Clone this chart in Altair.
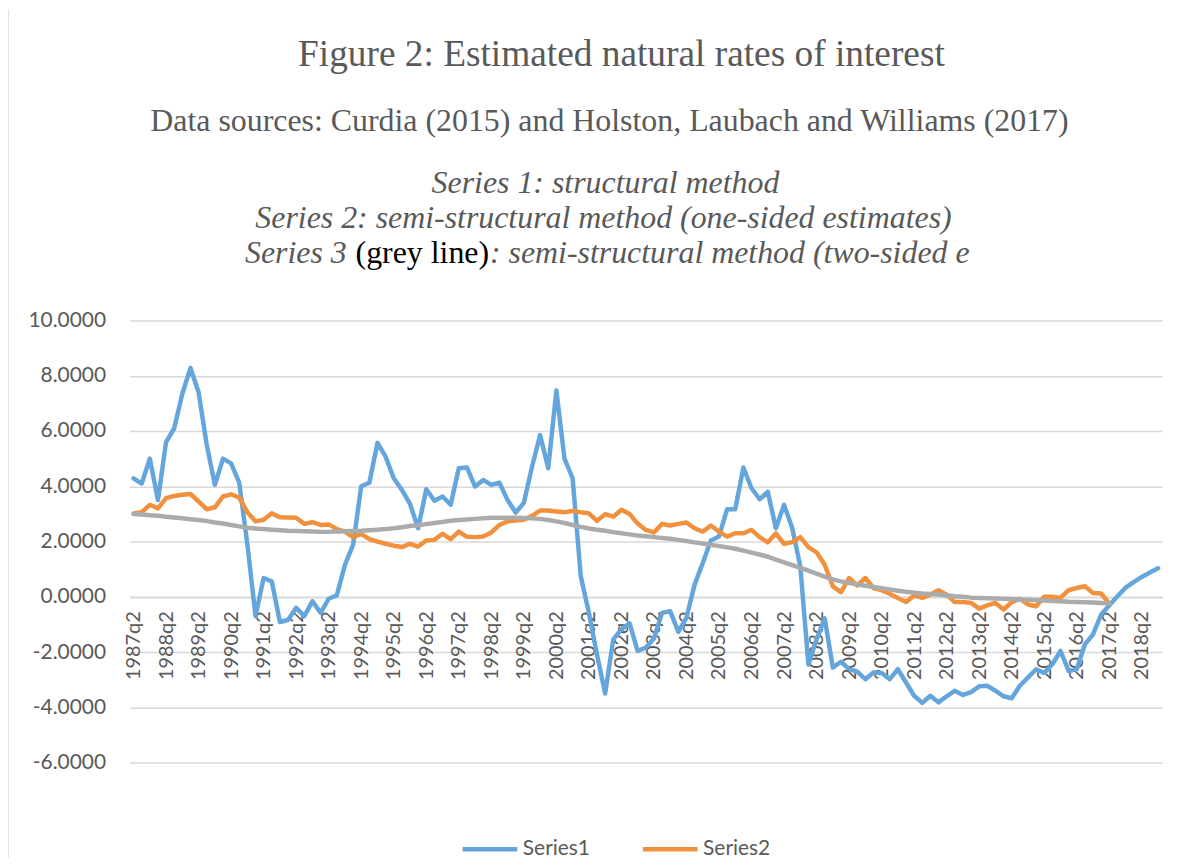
import altair as alt
import pandas as pd

# ---------------- data ----------------
quarters = [f"{y}q{q}" for y in range(1987, 2019) for q in range(1, 5)][1:]  # 1987q2 .. 2018q4
tick_labels = [f"{y}q2" for y in range(1987, 2019)]

series1 = [4.29, 4.10, 5.00, 3.50, 5.60, 6.10, 7.35, 8.28, 7.40, 5.50,
           4.05, 5.00, 4.83, 4.12, 1.90, -0.70, 0.68, 0.56, -0.91, -0.84,
           -0.40, -0.70, -0.16, -0.58, -0.07, 0.05, 1.16, 1.88, 4.00, 4.13,
           5.57, 5.07, 4.29, 3.87, 3.36, 2.48, 3.89, 3.48, 3.63, 3.33,
           4.65, 4.68, 3.99, 4.23, 4.05, 4.13, 3.50, 3.05, 3.40, 4.70,
           5.85, 4.65, 7.47, 5.00, 4.29, 0.74, -0.58, -2.10, -3.50, -1.54,
           -1.18, -0.96, -1.96, -1.84, -1.51, -0.58, -0.52, -1.27, -0.76, 0.44,
           1.22, 2.04, 2.18, 3.17, 3.17, 4.68, 3.93, 3.53, 3.80, 2.48,
           3.33, 2.50, 1.10, -2.45, -1.54, -0.78, -2.56, -2.35, -2.62, -2.71,
           -2.98, -2.74, -2.76, -2.98, -2.62, -3.10, -3.58, -3.84, -3.58, -3.82,
           -3.60, -3.40, -3.55, -3.45, -3.24, -3.22, -3.40, -3.60, -3.67, -3.22,
           -2.92, -2.62, -2.76, -2.44, -1.96, -2.68, -2.62, -1.72, -1.36, -0.64,
           -0.31, 0.02, 0.33, 0.53, 0.72, 0.88, 1.03]

series2 = [3.02, 3.06, 3.33, 3.20, 3.57, 3.65, 3.69, 3.72, 3.45, 3.17,
           3.24, 3.63, 3.71, 3.59, 3.06, 2.73, 2.79, 3.02, 2.88, 2.87,
           2.86, 2.64, 2.70, 2.60, 2.62, 2.45, 2.36, 2.16, 2.28, 2.09,
           2.00, 1.92, 1.85, 1.80, 1.92, 1.82, 2.04, 2.06, 2.28, 2.09,
           2.36, 2.17, 2.16, 2.18, 2.33, 2.60, 2.73, 2.76, 2.79, 2.93,
           3.12, 3.12, 3.09, 3.06, 3.11, 3.06, 3.02, 2.75, 2.99, 2.90,
           3.15, 3.00, 2.65, 2.42, 2.33, 2.64, 2.58, 2.64, 2.69, 2.48,
           2.36, 2.58, 2.36, 2.18, 2.30, 2.30, 2.42, 2.16, 1.97, 2.30,
           1.92, 1.98, 2.16, 1.80, 1.61, 1.16, 0.38, 0.17, 0.68, 0.41,
           0.68, 0.32, 0.24, 0.11, -0.04, -0.19, 0.05, -0.04, 0.08, 0.24,
           0.08, -0.19, -0.19, -0.22, -0.43, -0.31, -0.22, -0.46, -0.19, -0.07,
           -0.28, -0.34, 0.00, 0.00, -0.04, 0.24, 0.32, 0.38, 0.14, 0.12,
           -0.24]

series3 = [3.00, 2.98, 2.95, 2.93, 2.90, 2.87, 2.84, 2.81, 2.78, 2.74,
           2.69, 2.65, 2.60, 2.55, 2.50, 2.47, 2.45, 2.43, 2.41, 2.39,
           2.38, 2.37, 2.36, 2.35, 2.35, 2.36, 2.37, 2.38, 2.39, 2.41,
           2.43, 2.45, 2.48, 2.52, 2.56, 2.59, 2.63, 2.67, 2.71, 2.75,
           2.78, 2.80, 2.82, 2.84, 2.86, 2.86, 2.86, 2.86, 2.85, 2.84,
           2.82, 2.78, 2.73, 2.67, 2.60, 2.53, 2.47, 2.43, 2.39, 2.34,
           2.30, 2.26, 2.22, 2.19, 2.16, 2.13, 2.10, 2.06, 2.02, 1.97,
           1.93, 1.88, 1.84, 1.79, 1.74, 1.67, 1.60, 1.53, 1.45, 1.35,
           1.25, 1.15, 1.05, 0.95, 0.84, 0.73, 0.63, 0.56, 0.50, 0.45,
           0.40, 0.36, 0.31, 0.27, 0.22, 0.18, 0.15, 0.12, 0.10, 0.08,
           0.05, 0.02, 0.00, -0.03, -0.04, -0.05, -0.06, -0.07, -0.08, -0.10,
           -0.11, -0.12, -0.13, -0.15, -0.16, -0.18, -0.19, -0.20, -0.21, -0.22,
           -0.23]

series_names = ["Series1", "Series2", "Series3"]
series_colors = ["#64A6DB", "#F1913E", "#ABABAB"]
y_ticks = [-6, -4, -2, 0, 2, 4, 6, 8, 10]

rows = []
for name, vals in zip(series_names, [series1, series2, series3]):
    for q, v in zip(quarters, vals):
        rows.append({"quarter": q, "value": v, "series": name})
df = pd.DataFrame(rows)

# ---------------- layout ----------------
W, H = 1037, 444
PAD_L, PAD_T = 122, 312
GREY = "#595959"
FONT = "Lato"

color = alt.Color(
    "series:N",
    scale=alt.Scale(domain=series_names, range=series_colors),
    legend=alt.Legend(
        values=["Series1", "Series2"],
        orient="none", legendX=332, legendY=501, direction="horizontal",
        title=None, symbolType="stroke", symbolStrokeWidth=4.5, symbolSize=3025,
        labelFont=FONT, labelFontSize=21, labelColor=GREY, labelOffset=3,
        columnPadding=43,
    ),
)

x = alt.X(
    "quarter:O",
    scale=alt.Scale(domain=quarters, type="point", padding=0.5),
    axis=alt.Axis(
        values=tick_labels, title=None, labelAngle=-90, labelFont=FONT,
        labelFontSize=20, labelColor=GREY, ticks=False, domain=True,
        domainColor="#D9D9D9", domainWidth=1.5, grid=False,
        offset=-H * 6 / 16, labelPadding=14, labelOverlap=False,
    ),
)
y = alt.Y(
    "value:Q",
    scale=alt.Scale(domain=[-6, 10], nice=False, zero=False),
    axis=alt.Axis(
        values=y_ticks, title=None, labelFont=FONT,
        labelExpr="replace(format(datum.value, '.4f'), '\u2212', '-')",
        labelFontSize=21, labelColor=GREY, ticks=False, domain=False,
        gridColor="#D9D9D9", gridWidth=1.5, labelPadding=24,
    ),
)

layers = []
for name in series_names:
    layers.append(
        alt.Chart(df[df.series == name]).mark_line(strokeWidth=4.5, strokeCap="round", strokeJoin="round")
        .encode(x=x, y=y, color=color)
    )


def txt(t, xp, yp, size, italic=False, col=GREY, align="center"):
    return alt.Chart(pd.DataFrame({"t": [t]})).mark_text(
        font="Liberation Serif", fontSize=size, fontStyle="italic" if italic else "normal",
        color=col, align=align, baseline="middle",
    ).encode(text="t:N", x=alt.value(xp), y=alt.value(yp))


title_lines = [
    txt("Figure 2: Estimated natural rates of interest", 494, -267, 37.5),
    txt("Data sources: Curdia (2015) and Holston, Laubach and Williams (2017)", 482, -200, 32),
    txt("Series 1: structural method", 478, -138, 32, italic=True),
    txt("Series 2: semi-structural method (one-sided estimates)", 476, -103, 32, italic=True),
    txt("Series 3", 116, -68, 32, italic=True, align="left"),
    txt("(grey line)", 227, -68, 32, col="#000000", align="left"),
    txt(": semi-structural method (two-sided e", 362, -68, 32, italic=True, align="left"),
]

border = alt.Chart(pd.DataFrame({"a": [0]})).mark_rule(color="#D9D9D9", strokeWidth=1.5).encode(
    x=alt.value(-122), y=alt.value(-312), y2=alt.value(H + 95)
)

chart = alt.layer(border, *layers, *title_lines).properties(
    width=W, height=H,
    autosize=alt.AutoSizeParams(type="none"),
    padding={"left": PAD_L, "top": PAD_T, "right": 30, "bottom": 95},
    background="white",
).configure_view(stroke=None)

chart.save("out.html", embed_options={"renderer": "svg", "actions": False})
